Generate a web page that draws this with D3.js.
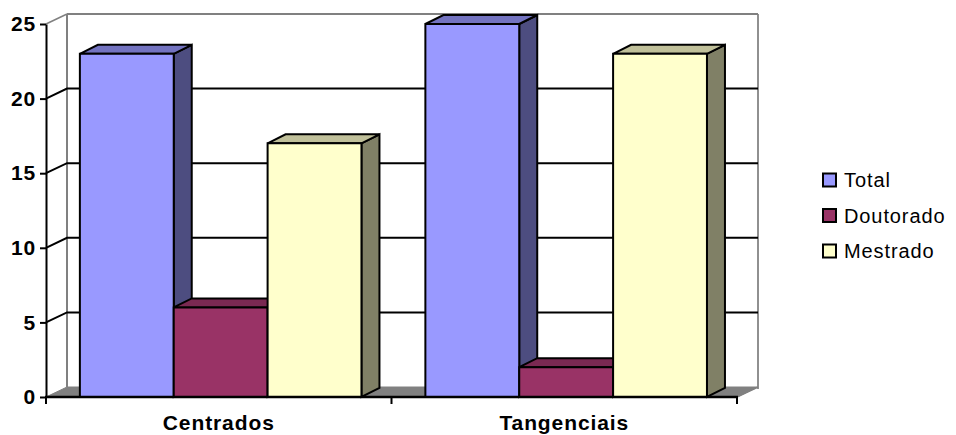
<!DOCTYPE html>
<html>
<head>
<meta charset="utf-8">
<script src="https://cdn.jsdelivr.net/npm/d3@7"></script>
<style>
  html, body { margin: 0; padding: 0; background: #ffffff; }
  svg { display: block; font-family: Arial, "Liberation Sans", sans-serif; }
</style>
</head>
<body>
<svg id="chart" width="956" height="435"></svg>
<script>
// Chart data
const categories = ["Centrados", "Tangenciais"];
const seriesNames = ["Total", "Doutorado", "Mestrado"];
const totalValues = [23, 25];
const doutoradoValues = [6, 2];
const mestradoValues = [17, 23];
const yTickValues = [0, 5, 10, 15, 20, 25];

const seriesValues = [totalValues, doutoradoValues, mestradoValues];

// Face colours per series: front, top, side
const faceColors = [
  { front: "#9999FF", top: "#7373C0", side: "#4D4D80" },
  { front: "#993366", top: "#7A2952", side: "#4D1A33" },
  { front: "#FFFFCC", top: "#C0C09A", side: "#808066" }
];

const svg = d3.select("#chart");

// Front plane geometry and oblique depth offsets
const plotLeft = 46, plotRight = 737, plotBottom = 397, plotTop = 24;
const wallDx = 21, wallDy = -10;
const barDx = 18, barDy = -9;

const y = d3.scaleLinear().domain([0, 25]).range([plotBottom, plotTop]);

const xCat = d3.scaleBand().domain(categories).range([plotLeft, plotRight])
  .paddingInner(0.185).paddingOuter(0.0925).align(0.53);
const xSeries = d3.scaleBand().domain(seriesNames).range([0, xCat.bandwidth()]);
const xAxisBand = d3.scaleBand().domain(categories).range([plotLeft, plotRight]);

const poly = pts => "M" + pts.map(p => p.join(",")).join("L") + "Z";

// Floor
svg.append("path")
  .attr("d", poly([[plotLeft, plotBottom], [plotRight, plotBottom], [plotRight + wallDx, plotBottom + wallDy], [plotLeft + wallDx, plotBottom + wallDy]]))
  .attr("fill", "#808080").attr("stroke", "#808080").attr("stroke-width", 1);

// Back wall and left wall edges
const backTop = y(25) + wallDy;
const backBottom = plotBottom + wallDy;
svg.append("line").attr("x1", plotLeft + wallDx).attr("x2", plotLeft + wallDx)
  .attr("y1", backTop).attr("y2", backBottom)
  .attr("stroke", "#808080").attr("stroke-width", 2);
svg.append("line").attr("x1", plotRight + wallDx).attr("x2", plotRight + wallDx)
  .attr("y1", backTop).attr("y2", backBottom + 2)
  .attr("stroke", "#909090").attr("stroke-width", 2);
svg.append("line").attr("x1", plotLeft + wallDx).attr("x2", plotRight + wallDx)
  .attr("y1", backTop).attr("y2", backTop)
  .attr("stroke", "#808080").attr("stroke-width", 2);
svg.append("line").attr("x1", plotLeft).attr("x2", plotLeft + wallDx)
  .attr("y1", y(25)).attr("y2", backTop)
  .attr("stroke", "#808080").attr("stroke-width", 1.5);

// Gridlines on the back and left walls
const gridVals = yTickValues.filter(v => v > 0 && v < 25);
svg.append("g").selectAll("path").data(gridVals).join("path")
  .attr("d", v => `M${plotLeft},${y(v)}L${plotLeft + wallDx},${y(v) + wallDy}L${plotRight + wallDx},${y(v) + wallDy}`)
  .attr("fill", "none").attr("stroke", "#000").attr("stroke-width", 2);

// 3D columns, drawn left to right so nearer faces overlap
const bars = [];
categories.forEach((c, ci) => {
  seriesNames.forEach((s, si) => {
    bars.push({ x: xCat(c) + xSeries(s), w: xSeries.bandwidth(), v: seriesValues[si][ci], si });
  });
});
const barG = svg.append("g");
bars.forEach(b => {
  const x0 = b.x, x1 = b.x + b.w, yv = y(b.v), y0 = y(0);
  const g = barG.append("g").attr("stroke", "#000").attr("stroke-width", 2).attr("stroke-linejoin", "miter");
  g.append("path").attr("d", poly([[x1, yv], [x1 + barDx, yv + barDy], [x1 + barDx, y0 + barDy], [x1, y0]]))
    .attr("fill", faceColors[b.si].side);
  g.append("path").attr("d", poly([[x0, yv], [x1, yv], [x1 + barDx, yv + barDy], [x0 + barDx, yv + barDy]]))
    .attr("fill", faceColors[b.si].top);
  g.append("path").attr("d", poly([[x0, yv], [x1, yv], [x1, y0], [x0, y0]]))
    .attr("fill", faceColors[b.si].front);
});

// Floor right diagonal
svg.append("line").attr("x1", plotRight).attr("x2", plotRight + wallDx)
  .attr("y1", plotBottom).attr("y2", plotBottom + wallDy)
  .attr("stroke", "#808080").attr("stroke-width", 1.5);

// Category axis
const xAxis = d3.axisBottom(xAxisBand).tickSize(0).tickPadding(0);
const xg = svg.append("g").attr("transform", `translate(0,${plotBottom})`).call(xAxis);
xg.select(".domain").remove();
xg.selectAll("text").attr("dy", null).attr("y", 33)
  .attr("font-size", 21).attr("font-weight", "bold").attr("fill", "#000")
  .attr("font-family", "Arial, 'Liberation Sans', sans-serif")
  .style("letter-spacing", "0.9px");
const catBounds = [plotLeft].concat(categories.map(c => xAxisBand(c) + xAxisBand.step()));
svg.append("g").selectAll("line").data(catBounds).join("line")
  .attr("x1", d => d).attr("x2", d => d).attr("y1", plotBottom).attr("y2", plotBottom + 7)
  .attr("stroke", "#000").attr("stroke-width", 2);
svg.append("line").attr("x1", plotLeft - 1).attr("x2", plotRight + 1)
  .attr("y1", plotBottom).attr("y2", plotBottom)
  .attr("stroke", "#000").attr("stroke-width", 2.5);

// Value axis
const yAxis = d3.axisLeft(y).tickValues(yTickValues).tickSize(6).tickPadding(4).tickSizeOuter(0);
const yg = svg.append("g").attr("transform", `translate(${plotLeft},0)`).call(yAxis);
yg.select(".domain").attr("stroke", "#000").attr("stroke-width", 2);
yg.selectAll(".tick line").attr("stroke", "#000").attr("stroke-width", 2);
yg.selectAll(".tick text").attr("font-size", 21).attr("font-weight", "bold").attr("fill", "#000")
  .attr("font-family", "Arial, 'Liberation Sans', sans-serif")
  .style("letter-spacing", "0.8px");

// Legend
const legend = svg.append("g").attr("transform", "translate(823,180)");
const items = legend.selectAll("g").data(seriesNames).join("g")
  .attr("transform", (d, i) => `translate(0,${i * 35.5})`);
items.append("rect").attr("x", 0).attr("y", -6.5).attr("width", 13).attr("height", 13)
  .attr("fill", (d, i) => faceColors[i].front).attr("stroke", "#000").attr("stroke-width", 2);
items.append("text").attr("x", 21).attr("y", 0).attr("dy", "0.35em")
  .attr("font-size", 20).attr("fill", "#000").style("letter-spacing", "0.9px").text(d => d);
</script>
</body>
</html>
